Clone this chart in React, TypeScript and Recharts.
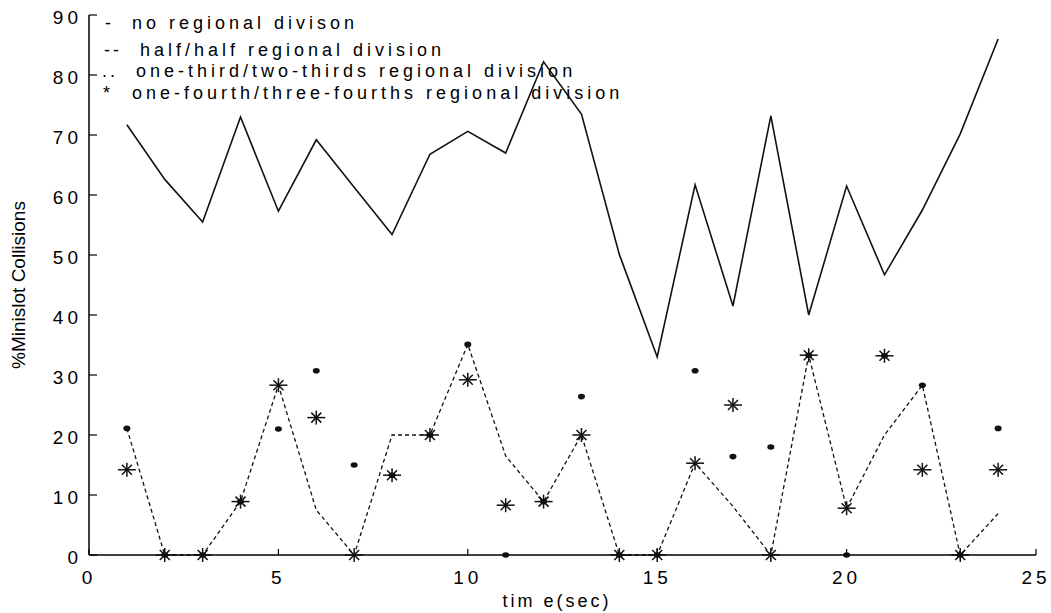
import React from 'react';
import { LineChart, Line, XAxis, YAxis } from 'recharts';

// time (sec)
const TIMES = [1, 2, 3, 4, 5, 6, 7, 8, 9, 10, 11, 12, 13, 14, 15, 16, 17, 18, 19, 20, 21, 22, 23, 24];

// % minislot collisions per scheme
const NO_DIVISION = [71.7, 62.6, 55.5, 73.0, 57.3, 69.2, 61.3, 53.4, 66.8, 70.6, 67.0, 82.2, 73.5, 50.1, 33.0, 61.7, 41.5, 73.2, 40.0, 61.5, 46.7, 57.5, 70.2, 86.0];
const HALF_HALF = [21.1, 0, 0, 8.9, 28.3, 7.5, 0, 20, 20, 35.1, 16.5, 8.9, 20, 0, 0, 15.3, 8.1, 0, 33.3, 7.8, 20, 28.3, 0, 6.9];
const THIRD = [21.1, 0, 0, 8.9, 21.0, 30.7, 15.0, 13.3, 20, 35.1, 0, 8.9, 26.4, 0, 0, 30.7, 16.4, 18.0, 33.3, 0, 33.2, 28.3, 0, 21.1];
const FOURTH = [14.2, 0, 0, 8.9, 28.3, 22.9, 0, 13.3, 20, 29.2, 8.3, 8.9, 20, 0, 0, 15.3, 25.0, 0, 33.3, 7.8, 33.2, 14.2, 0, 14.2];

const X_TICKS = [0, 5, 10, 15, 20, 25];
const Y_TICKS = [0, 10, 20, 30, 40, 50, 60, 70, 80, 90];

const LEGEND_KEYS = ['-', '--', '..', '*'];
const LEGEND_LABELS = [
  'no regional divison',
  'half/half regional division',
  'one-third/two-thirds regional division',
  'one-fourth/three-fourths regional division',
];

const data = TIMES.map((t, i) => ({
  t,
  none: NO_DIVISION[i],
  half: HALF_HALF[i],
  third: THIRD[i],
  fourth: FOURTH[i],
}));

const FONT = '"Liberation Sans", Arial, sans-serif';

const legendPos = [
  { top: 13, keyX: 105, textX: 132 },
  { top: 40, keyX: 104, textX: 140 },
  { top: 61, keyX: 102, textX: 136 },
  { top: 83, keyX: 103, textX: 132 },
];

const YTick = (props: any) => {
  const { x, y, payload } = props;
  const ax = x + 7;
  return (
    <g>
      <line x1={ax} x2={ax + 8} y1={y} y2={y} stroke="#000" strokeWidth={1.2} />
      <text x={x} y={y + 2} textAnchor="end" dominantBaseline="central" fontSize={19} letterSpacing={4} fill="#000" fontFamily={FONT}>
        {payload.value}
      </text>
    </g>
  );
};

const XTick = (props: any) => {
  const { x, y, payload } = props;
  const ay = y - 14;
  return (
    <g>
      <line x1={x} x2={x} y1={ay} y2={ay - 6} stroke="#000" strokeWidth={1.2} />
      <text x={x} y={y + 8} textAnchor="middle" dominantBaseline="central" fontSize={19} letterSpacing={4} fill="#000" fontFamily={FONT}>
        {payload.value}
      </text>
    </g>
  );
};

const Dot = (props: any) => {
  const { cx, cy } = props;
  if (cx == null || cy == null) return null;
  return <ellipse cx={cx} cy={cy} rx={3.5} ry={2.8} fill="#111" />;
};

const Star = (props: any) => {
  const { cx, cy } = props;
  if (cx == null || cy == null) return null;
  return (
    <g stroke="#111" strokeWidth={1.5}>
      <line x1={cx - 9} x2={cx + 9} y1={cy} y2={cy} />
      <line x1={cx} x2={cx} y1={cy - 7} y2={cy + 7} />
      <line x1={cx - 5} x2={cx + 5} y1={cy - 5} y2={cy + 5} />
      <line x1={cx - 5} x2={cx + 5} y1={cy + 5} y2={cy - 5} />
    </g>
  );
};

export default function App() {
  return (
    <div style={{ position: 'absolute', left: 0, top: 0, width: 1051, height: 613, background: '#fff', fontFamily: FONT }}>
      <LineChart width={1051} height={613} data={data} margin={{ top: 15, right: 15, bottom: 0, left: 0 }}>
        <XAxis
          dataKey="t"
          type="number"
          domain={[0, 25]}
          ticks={X_TICKS}
          height={58}
          tickSize={0}
          tickMargin={14}
          tickLine={false}
          tick={<XTick />}
          axisLine={{ stroke: '#000', strokeWidth: 1.5 }}
        />
        <YAxis
          type="number"
          domain={[0, 90]}
          ticks={Y_TICKS}
          width={89}
          tickSize={0}
          tickMargin={7}
          tickLine={false}
          tick={<YTick />}
          axisLine={{ stroke: '#000', strokeWidth: 1.5 }}
        />
        <Line dataKey="none" stroke="#111" strokeWidth={1.6} dot={false} isAnimationActive={false} />
        <Line dataKey="half" stroke="#111" strokeWidth={1.3} strokeDasharray="4 3" dot={false} isAnimationActive={false} />
        <Line dataKey="third" stroke="none" dot={<Dot />} activeDot={false} isAnimationActive={false} />
        <Line dataKey="fourth" stroke="none" dot={<Star />} activeDot={false} isAnimationActive={false} />
      </LineChart>

      <div
        style={{
          position: 'absolute',
          left: 19,
          top: 285,
          transform: 'translate(-50%, -50%) rotate(-90deg)',
          fontSize: 19,
          whiteSpace: 'nowrap',
        }}
      >
        %Minislot Collisions
      </div>

      <div style={{ position: 'absolute', left: 557, top: 601, transform: 'translate(-50%, -50%)', fontSize: 18, letterSpacing: 3, whiteSpace: 'nowrap' }}>
        tim e(sec)
      </div>

      {LEGEND_LABELS.map((label, i) => (
        <React.Fragment key={label}>
          <div style={{ position: 'absolute', left: legendPos[i].keyX, top: legendPos[i].top, fontSize: 18, lineHeight: '20px', letterSpacing: 3, whiteSpace: 'pre' }}>
            {LEGEND_KEYS[i]}
          </div>
          <div style={{ position: 'absolute', left: legendPos[i].textX, top: legendPos[i].top, fontSize: 18, lineHeight: '20px', letterSpacing: 4, whiteSpace: 'pre' }}>
            {label}
          </div>
        </React.Fragment>
      ))}
    </div>
  );
}
